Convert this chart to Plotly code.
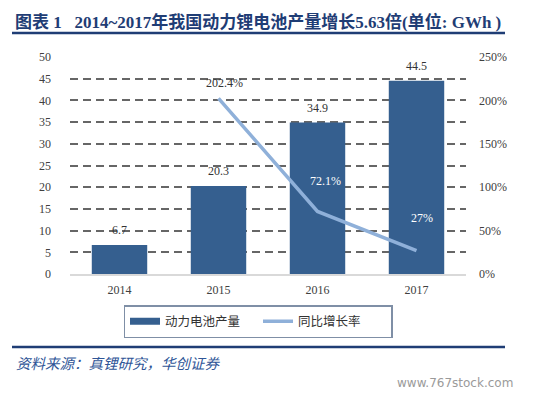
import plotly.graph_objects as go

years = ["2014", "2015", "2016", "2017"]
production = [6.7, 20.3, 34.9, 44.5]
growth_idx = [1, 2, 3]
growth = [202.4, 72.1, 27.0]
growth_labels = ["202.4%", "72.1%", "27%"]
left_ticks = [0, 5, 10, 15, 20, 25, 30, 35, 40, 45, 50]
right_ticks = [0, 50, 100, 150, 200, 250]
right_tick_labels = ["0%", "50%", "100%", "150%", "200%", "250%"]

BAR = "#355F8F"
LINE = "#8FB0D9"
NAVY = "#1F3D75"
SERIF = "Liberation Serif, Noto Sans CJK SC"
CJK = "Noto Sans CJK SC"

W, H = 552, 396
L, R, T, B = 70, 86, 57, 122
pw, ph = W - L - R, H - T - B


def px(x):
    return (x - L) / pw


def py(y):
    return (H - B - y) / ph


x_idx = list(range(len(years)))

fig = go.Figure()
fig.add_trace(go.Bar(x=x_idx, y=production, width=0.56, marker=dict(color=BAR, line=dict(width=0)),
                     name="动力电池产量", showlegend=False, yaxis="y"))
fig.add_trace(go.Scatter(x=growth_idx, y=growth, mode="lines", line=dict(color=LINE, width=3.5),
                         name="同比增长率", showlegend=False, yaxis="y2"))
# legend proxies
fig.add_trace(go.Scatter(x=[None], y=[None], mode="lines", line=dict(color=BAR, width=7),
                         name="动力电池产量", yaxis="y"))
fig.add_trace(go.Scatter(x=[None], y=[None], mode="lines", line=dict(color=LINE, width=3.5),
                         name="同比增长率", yaxis="y2"))

annotations = []
for x, v in zip(x_idx, production):
    annotations.append(dict(x=x, y=v, xref="x", yref="y", text=f"{v:.1f}", showarrow=False,
                            yanchor="bottom", yshift=6, font=dict(family=SERIF, size=12, color="#333333")))
label_style = [(6, 6, "#333333"), (8, 21, "#ffffff"), (5, 24, "#ffffff")]
for (x, v, t), (dx, dy, c) in zip(zip(growth_idx, growth, growth_labels), label_style):
    annotations.append(dict(x=x, y=v, xref="x", yref="y2", text=t, showarrow=False,
                            yanchor="bottom", xshift=dx, yshift=dy,
                            font=dict(family=SERIF, size=12, color=c)))

annotations.append(dict(x=px(13), y=py(22), xref="paper", yref="paper",
                        text="<b>图表 1   2014~2017年我国动力锂电池产量增长5.63倍(单位: GWh )</b>",
                        showarrow=False, xanchor="left", yanchor="middle",
                        font=dict(family=SERIF, size=17, color=NAVY)))
annotations.append(dict(x=px(14), y=py(362), xref="paper", yref="paper",
                        text="<i>资料来源：真锂研究，华创证券</i>", showarrow=False,
                        xanchor="left", yanchor="middle",
                        font=dict(family=CJK, size=14.5, color="#2F5597")))
annotations.append(dict(x=px(515), y=py(383), xref="paper", yref="paper",
                        text="www.767stock.com", showarrow=False,
                        xanchor="right", yanchor="middle",
                        font=dict(family="DejaVu Sans", size=12, color="#9a9a9a")))

fig.update_layout(
    width=W, height=H,
    margin=dict(l=L, r=R, t=T, b=B, pad=0, autoexpand=False),
    paper_bgcolor="white", plot_bgcolor="white",
    annotations=annotations,
    xaxis=dict(range=[-0.5, 3.5], tickvals=x_idx, ticktext=years, showgrid=False, zeroline=False,
               showline=True, linecolor="#d9d9d9", linewidth=1.5, ticks="", ticklabelstandoff=4,
               tickfont=dict(family=SERIF, size=12, color="#404040")),
    yaxis=dict(range=[0, 50], tickvals=left_ticks, showgrid=True, gridcolor="#666666",
               gridwidth=1.5, griddash="8px,5px", zeroline=False, showline=False, ticks="",
               ticklabelstandoff=18,
               tickfont=dict(family=SERIF, size=12, color="#404040")),
    yaxis2=dict(range=[0, 250], tickvals=right_ticks, ticktext=right_tick_labels,
                overlaying="y", side="right",
                showgrid=False, zeroline=False, showline=False, ticks="", ticklabelstandoff=12,
                tickfont=dict(family=SERIF, size=12, color="#404040")),
    showlegend=True,
    legend=dict(orientation="h", x=px(258), xanchor="center", y=py(305), yanchor="top",
                bordercolor="#7f8fa6", borderwidth=1.5, bgcolor="white",
                font=dict(family=CJK, size=12.5, color="#333333"),
                itemwidth=30, entrywidth=88, tracegroupgap=0),
    shapes=[
        dict(type="line", xref="paper", yref="paper", x0=px(12), x1=px(505), y0=py(33), y1=py(33),
             line=dict(color=NAVY, width=2.5)),
        dict(type="line", xref="paper", yref="paper", x0=px(12), x1=px(505), y0=py(347), y1=py(347),
             line=dict(color=NAVY, width=2.5)),
    ],
)

fig.write_html("out.html", config={"displayModeBar": False},
               post_script="document.body.style.margin='0';")
